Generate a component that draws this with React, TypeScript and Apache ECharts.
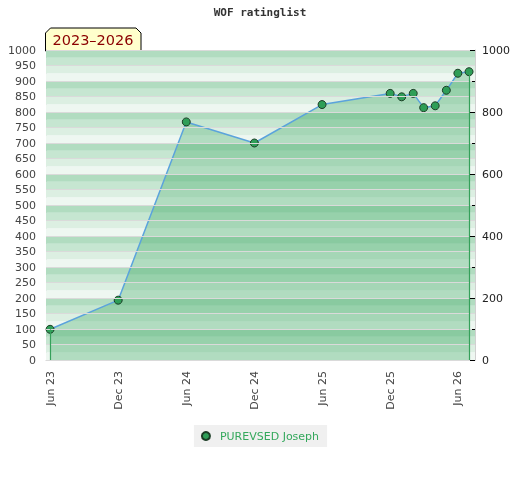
import React, { useEffect, useRef } from "react";
import * as echarts from "echarts";

const ratingDates = [
  "2023-06-01", "2023-12-01", "2024-06-01", "2024-12-01", "2025-06-01",
  "2025-12-01", "2026-01-01", "2026-02-01", "2026-03-01", "2026-04-01",
  "2026-05-01", "2026-06-01", "2026-07-01",
];
const ratings = [99, 193, 768, 700, 824, 860, 849, 860, 814, 820, 870, 925, 930];
const playerName = "PUREVSED Joseph";
const tickDates = ["2023-06-01", "2023-12-01", "2024-06-01", "2024-12-01", "2025-06-01", "2025-12-01", "2026-06-01"];
const tickLabels = ["Jun 23", "Dec 23", "Jun 24", "Dec 24", "Jun 25", "Dec 25", "Jun 26"];
const xMinDate = "2023-05-21";
const xMaxDate = "2026-07-17";
const yMax = 1000;
const periodLabel = "2023\u20132026";
const titleText = "WOF ratinglist";

const stripeColors = ["#eef7f1", "#dcefe2", "#c6e6d1", "#b1dcc0"];
const FONT = "DejaVu Sans";

function ts(s: string): number {
  const [y, m, d] = s.split("-").map(Number);
  return Date.UTC(y, m - 1, d);
}

export default function App() {
  const ref = useRef<HTMLDivElement>(null);
  useEffect(() => {
    if (!ref.current) return;
    const chart = echarts.init(ref.current, undefined, { renderer: "svg" });
    const tickTs = tickDates.map(ts);
    const points = ratingDates.map((d, i) => [ts(d), ratings[i]]);
    const stripes: any[] = [];
    for (let v = 0; v < yMax; v += 25) {
      stripes.push([
        { yAxis: v, itemStyle: { color: stripeColors[(v / 25) % 4], opacity: 1 } },
        { yAxis: v + 25 },
      ]);
    }
    const gridLines: any[] = [];
    for (let v = 0; v <= yMax; v += 50) gridLines.push({ yAxis: v });
    const first = points[0];
    const last = points[points.length - 1];
    const plain = (v: number) => String(v);

    chart.setOption({
      animation: false,
      title: {
        text: titleText,
        left: "center",
        top: 7,
        padding: 0,
        textStyle: { fontFamily: "DejaVu Sans Mono", fontWeight: "bold", fontSize: 11, color: "#333" },
      },
      grid: { left: 46, right: 45, top: 50, bottom: 120, containLabel: false },
      legend: {
        data: [playerName],
        left: "center",
        top: 425,
        backgroundColor: "#f0f0f0",
        padding: [5, 8, 5, 7],
        icon: "circle",
        itemWidth: 8,
        itemHeight: 8,
        textStyle: { color: "#34a85c", fontFamily: FONT, fontSize: 11, padding: [0, 0, 0, 5], lineHeight: 12 },
      },
      xAxis: {
        type: "value",
        min: ts(xMinDate),
        max: ts(xMaxDate),
        axisLine: { show: true, lineStyle: { color: "#d0d0d0", width: 1 } },
        axisTick: { show: false },
        splitLine: { show: false },
        axisLabel: {
          customValues: tickTs,
          rotate: 90,
          margin: 11,
          color: "#444",
          fontFamily: FONT,
          fontSize: 11,
          formatter: (v: number) => {
            const i = tickTs.indexOf(v);
            return i >= 0 ? tickLabels[i] : "";
          },
        },
      },
      yAxis: [
        {
          type: "value",
          min: 0,
          max: yMax,
          interval: 50,
          position: "left",
          axisLine: { show: true, lineStyle: { color: "#d0d0d0" } },
          axisTick: { show: false },
          splitLine: { show: false },
          axisLabel: { color: "#444", fontFamily: FONT, fontSize: 11, margin: 10, formatter: plain },
        },
        {
          type: "value",
          min: 0,
          max: yMax,
          interval: 200,
          position: "right",
          z: 5,
          axisLine: { show: true, lineStyle: { color: "#d0d0d0" } },
          axisTick: { show: true, inside: true, length: 5, lineStyle: { color: "#000", width: 1 } },
          minorTick: { show: true, splitNumber: 2, length: 3, lineStyle: { color: "#000", width: 1 } },
          splitLine: { show: false },
          axisLabel: { color: "#222", fontFamily: FONT, fontSize: 11, margin: 7, formatter: plain },
        },
      ],
      series: [
        {
          type: "line",
          name: "__bg",
          data: [],
          silent: true,
          z: 1,
          markArea: { silent: true, data: stripes },
          markLine: {
            silent: true,
            symbol: "none",
            label: { show: false },
            lineStyle: { color: "#dadada", width: 1, type: "solid" },
            data: gridLines,
          },
        },
        {
          type: "line",
          name: playerName,
          data: points,
          z: 3,
          symbol: "circle",
          symbolSize: 8,
          itemStyle: { color: "#2e9e57", borderColor: "#1c3d26", borderWidth: 1 },
          lineStyle: { color: "#5ba3dc", width: 1.5 },
          areaStyle: { color: "rgba(64,170,100,0.5)" },
          markLine: {
            silent: true,
            symbol: "none",
            label: { show: false },
            lineStyle: { color: "#35a05a", width: 1.2, type: "solid" },
            data: [
              [{ coord: [first[0], 0] }, { coord: [first[0], first[1]] }],
              [{ coord: [last[0], 0] }, { coord: [last[0], last[1]] }],
            ],
          },
        },
      ],
      graphic: [
        {
          type: "group",
          z: 100,
          children: [
            {
              type: "polygon",
              shape: { points: [[45.5, 51], [45.5, 33], [50.5, 28], [136, 28], [141, 33], [141, 51]] },
              style: { fill: "#ffffcc", stroke: "#000", lineWidth: 1 },
            },
            {
              type: "text",
              x: 93,
              y: 40,
              style: {
                text: periodLabel,
                fill: "#8b0000",
                font: `14.5px '${FONT}'`,
                textAlign: "center",
                textVerticalAlign: "middle",
              },
            },
          ],
        },
      ],
    });
    return () => chart.dispose();
  }, []);
  return <div ref={ref} style={{ position: "fixed", left: 0, top: 0, width: 520, height: 480 }} />;
}
